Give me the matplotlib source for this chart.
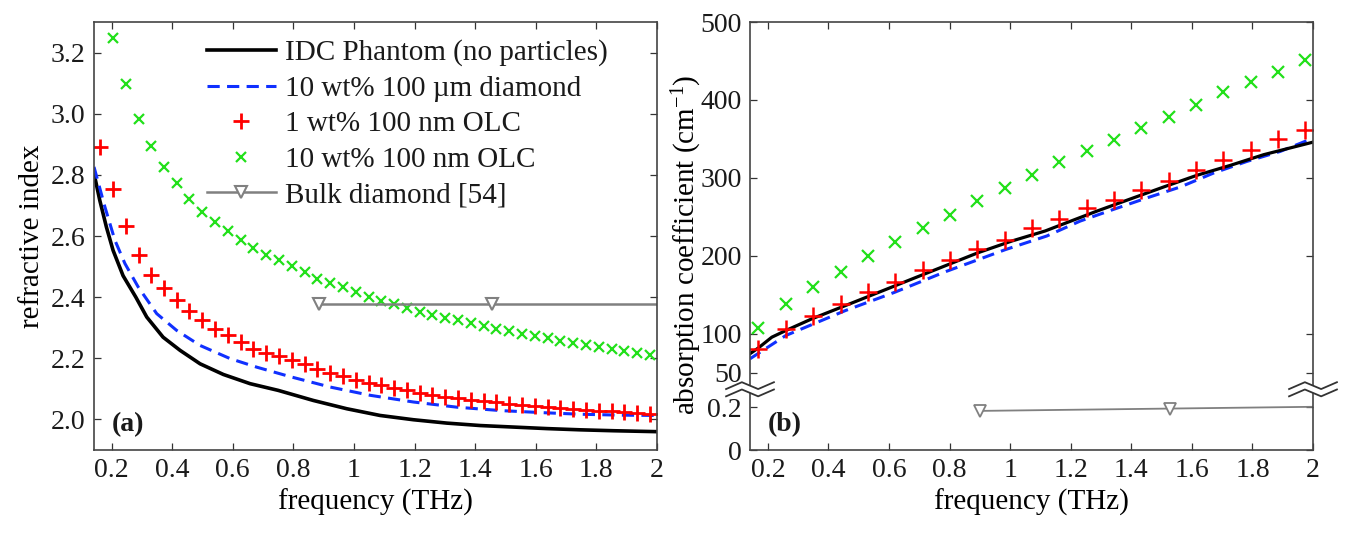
import numpy as np
import matplotlib
matplotlib.use('Agg')
import matplotlib.pyplot as plt
from matplotlib.ticker import FixedLocator

plt.rcParams['font.family'] = ['Liberation Serif', 'DejaVu Serif']
plt.rcParams['mathtext.fontset'] = 'custom'
plt.rcParams['mathtext.rm'] = 'Liberation Serif'
plt.rcParams['mathtext.it'] = 'Liberation Serif:italic'
plt.rcParams['text.color'] = '#1a1a1a'
plt.rcParams['xtick.color'] = '#333333'
plt.rcParams['ytick.color'] = '#333333'
plt.rcParams['xtick.labelcolor'] = '#1a1a1a'
plt.rcParams['ytick.labelcolor'] = '#1a1a1a'

# ---- (a) refractive index ----
f_idc_a = [0.142, 0.161, 0.183, 0.205, 0.238, 0.28, 0.316, 0.37, 0.426, 0.492, 0.569, 0.657,
           0.75, 0.866, 0.976, 1.086, 1.196, 1.306, 1.417, 1.527, 1.637, 1.747, 1.857, 2.0]
n_idc = [2.805, 2.717, 2.629, 2.553, 2.47, 2.40, 2.335, 2.269, 2.226, 2.182, 2.147, 2.117,
         2.095, 2.062, 2.035, 2.013, 1.999, 1.988, 1.98, 1.975, 1.97, 1.966, 1.963, 1.96]

f_dia_a = [0.142, 0.178, 0.211, 0.244, 0.288, 0.349, 0.415, 0.492, 0.591, 0.679, 0.789, 0.921,
           1.053, 1.196, 1.34, 1.483, 1.626, 1.747, 1.879, 2.0]
n_dia = [2.826, 2.695, 2.586, 2.51, 2.433, 2.346, 2.291, 2.242, 2.199, 2.171, 2.14, 2.106,
         2.079, 2.057, 2.04, 2.029, 2.022, 2.017, 2.014, 2.013]

f_olc_a = [0.162, 0.204, 0.246, 0.289, 0.331, 0.373, 0.415, 0.457, 0.500, 0.542, 0.584,
           0.626, 0.668, 0.711, 0.753, 0.795, 0.837, 0.879, 0.922, 0.964, 1.006, 1.048,
           1.090, 1.133, 1.175, 1.217, 1.259, 1.301, 1.344, 1.386, 1.428, 1.470, 1.512,
           1.555, 1.597, 1.639, 1.681, 1.723, 1.766, 1.808, 1.850, 1.892, 1.934, 1.977]
n_olc1 = [2.891, 2.755, 2.632, 2.537, 2.471, 2.431, 2.39, 2.355, 2.324, 2.297,
          2.275, 2.253, 2.231, 2.218, 2.206, 2.193, 2.180, 2.166, 2.152, 2.141,
          2.130, 2.120, 2.111, 2.104, 2.095, 2.087, 2.081, 2.075, 2.070, 2.064,
          2.060, 2.056, 2.052, 2.048, 2.044, 2.040, 2.037, 2.034, 2.031, 2.028,
          2.026, 2.024, 2.021, 2.019]
# 10 wt% OLC starts at the second frequency point
n_olc10 = [3.249, 3.096, 2.982, 2.896, 2.826, 2.774, 2.720, 2.679, 2.646, 2.616,
           2.586, 2.561, 2.539, 2.520, 2.501, 2.482, 2.460, 2.446, 2.433, 2.417,
           2.400, 2.389, 2.376, 2.364, 2.353, 2.343, 2.333, 2.324, 2.315, 2.306,
           2.297, 2.289, 2.281, 2.273, 2.265, 2.257, 2.250, 2.243, 2.236, 2.229,
           2.223, 2.217, 2.212]

f_bulk_a = [0.883, 1.455, 2.027]
n_bulk = [2.379, 2.379, 2.379]

# ---- (b) absorption coefficient ----
f_idc_b = [0.141, 0.169, 0.213, 0.259, 0.345, 0.455, 0.565, 0.675, 0.785, 0.895, 1.006,
           1.116, 1.176, 1.287, 1.397, 1.507, 1.617, 1.727, 1.837, 2.0]
a_idc = [74.5, 82, 95.7, 104.2, 119.2, 136.1, 153.1, 170.2, 187.2, 204.2, 219.1,
         232.0, 241.0, 257.5, 273.0, 288.4, 303.4, 316.1, 329.8, 345.9]

f_dia_b = [0.141, 0.259, 0.455, 0.62, 0.785, 0.984, 1.121, 1.231, 1.341, 1.452, 1.562,
           1.672, 1.782, 1.892, 2.0]
a_dia = [68, 97.8, 129.7, 153.5, 179.5, 208, 225.5, 244.6, 259.6, 274.4, 288.4,
         306.3, 321.2, 334, 351]

f_olc_b = [0.169, 0.259, 0.350, 0.440, 0.530, 0.621, 0.711, 0.801, 0.891, 0.982, 1.072,
           1.162, 1.253, 1.343, 1.433, 1.524, 1.614, 1.704, 1.794, 1.885, 1.975]
a_olc1 = [80.9, 106.4, 123.4, 138.3, 153.1, 165.9, 181.7, 194.5, 208.5, 220.8, 236.1,
          246.8, 260.9, 271.1, 285.1, 295.7, 309.8, 323.4, 336.2, 350.2, 361.7]
a_olc10 = [107.7, 138.3, 160.4, 179.9, 199.6, 218.2, 235.7, 252.7, 270.2, 287.2, 303.8,
           320.4, 334.0, 348.9, 363.8, 378.3, 393.6, 409.7, 423.4, 436.1, 451.1]

f_bulk_b = [0.901, 1.529, 2.157]
a_bulk = [0.184, 0.195, 0.206]

xticks = [0.2, 0.4, 0.6, 0.8, 1.0, 1.2, 1.4, 1.6, 1.8, 2.0]
xticklabels = ['0.2', '0.4', '0.6', '0.8', '1', '1.2', '1.4', '1.6', '1.8', '2']

# broken y axis for (b): 0..0.2857 below the break, 28.9..500 above
BRK_LO, BRK_HI = 0.2857, 28.9
_xp = [0, BRK_LO, BRK_HI, 1000]
_fp = [-49.0, 28.88, 28.9, 1000]


def fwd(v):
    return np.interp(v, _xp, _fp)


def inv(u):
    return np.interp(u, _fp, _xp)


FS = 20
fig = plt.figure(figsize=(13.47, 5.33), dpi=100)
ax1 = fig.add_axes([94 / 1347, 1 - 450 / 533, 563 / 1347, 428 / 533])
ax2 = fig.add_axes([750 / 1347, 1 - 450 / 533, 563 / 1347, 428 / 533])

red = '#ff0000'
green = '#22e01a'
blue = '#1030ff'
gray = '#808080'

# panel (a)
ax1.plot(f_idc_a, n_idc, '-', color='black', lw=2.6, label='IDC Phantom (no particles)')
ax1.plot(f_dia_a, n_dia, '--', color=blue, lw=2.2, dashes=(4, 2.4),
         label='10 wt% 100 µm diamond')
ax1.plot(f_olc_a, n_olc1, '+', color=red, ms=11, mew=2.0, label='1 wt% 100 nm OLC')
ax1.plot(f_olc_a[1:], n_olc10, 'x', color=green, ms=7.5, mew=1.6, label='10 wt% 100 nm OLC')
ax1.plot(f_bulk_a, n_bulk, '-v', color=gray, lw=1.8, ms=9, mfc='white', mec=gray, mew=1.5,
         label='Bulk diamond [54]')

ax1.set_xlim(0.142, 2.0)
ax1.set_ylim(1.9, 3.3)
ax1.set_xticks(xticks)
ax1.set_xticklabels(xticklabels)
ax1.set_yticks([2.0, 2.2, 2.4, 2.6, 2.8, 3.0, 3.2])
ax1.set_yticklabels(['2.0', '2.2', '2.4', '2.6', '2.8', '3.0', '3.2'])
ax1.set_xlabel('frequency (THz)', fontsize=FS + 1)
ax1.set_ylabel('refractive index', fontsize=FS + 1)
ax1.text(0.032, 0.045, '(a)', transform=ax1.transAxes, fontsize=FS, fontweight='bold')

leg = ax1.legend(loc='upper left', bbox_to_anchor=(0.17, 1.0), frameon=False,
                 fontsize=FS + 1, handlelength=2.35, handletextpad=0.3,
                 labelspacing=0.31, borderaxespad=0.2)

# panel (b)
ax2.set_yscale('function', functions=(fwd, inv))
ax2.plot(f_dia_b, a_dia, '--', color=blue, lw=2.2, dashes=(4, 2.4))
ax2.plot(f_idc_b, a_idc, '-', color='black', lw=2.3)
ax2.plot(f_olc_b, a_olc1, '+', color=red, ms=13, mew=1.8)
ax2.plot(f_olc_b, a_olc10, 'x', color=green, ms=8, mew=1.6)
ax2.plot(f_bulk_b, a_bulk, '-v', color=gray, lw=1.3, ms=9, mfc='white', mec=gray, mew=1.3)

ax2.set_xlim(0.141, 2.0)
ax2.set_ylim(0, 500)
ax2.set_xticks(xticks)
ax2.set_xticklabels(xticklabels)
ax2.yaxis.set_major_locator(FixedLocator([0, 0.2, 50, 100, 200, 300, 400, 500]))
ax2.set_yticklabels(['0', '0.2', '50', '100', '200', '300', '400', '500'])
ax2.yaxis.set_minor_locator(FixedLocator([]))
ax2.set_xlabel('frequency (THz)', fontsize=FS + 1)
ax2.set_ylabel('absorption coefficient (cm$^{-1}$)', fontsize=FS + 1)
ax2.yaxis.set_label_coords(-0.082, 0.48)
ax2.text(0.032, 0.045, '(b)', transform=ax2.transAxes, fontsize=FS, fontweight='bold')

for ax in (ax1, ax2):
    ax.tick_params(direction='in', top=True, right=True, length=5, width=0.9,
                   labelsize=FS, pad=6)
    ax.tick_params(which='minor', length=0)
    for sp in ax.spines.values():
        sp.set_color('#444444')
        sp.set_linewidth(1.2)

# break marks on both vertical spines of (b)
yb = (fwd(BRK_HI) - fwd(0)) / (fwd(500) - fwd(0))
for xa in (0.0, 1.0):
    xs = xa + np.array([-0.5, -0.17, 0.17, 0.5]) * 0.085
    zig = np.array([-1, 1, -1, 1]) * 0.008
    gap = 0.0085
    ax2.fill_between(xs, yb - gap + zig, yb + gap + zig, color='white',
                     transform=ax2.transAxes, clip_on=False, zorder=5, lw=0)
    ax2.plot(xs, yb - gap + zig, color='#333333', lw=1.3, transform=ax2.transAxes,
             clip_on=False, zorder=6)
    ax2.plot(xs, yb + gap + zig, color='#333333', lw=1.3, transform=ax2.transAxes,
             clip_on=False, zorder=6)

fig.savefig('out.png', dpi=100)
